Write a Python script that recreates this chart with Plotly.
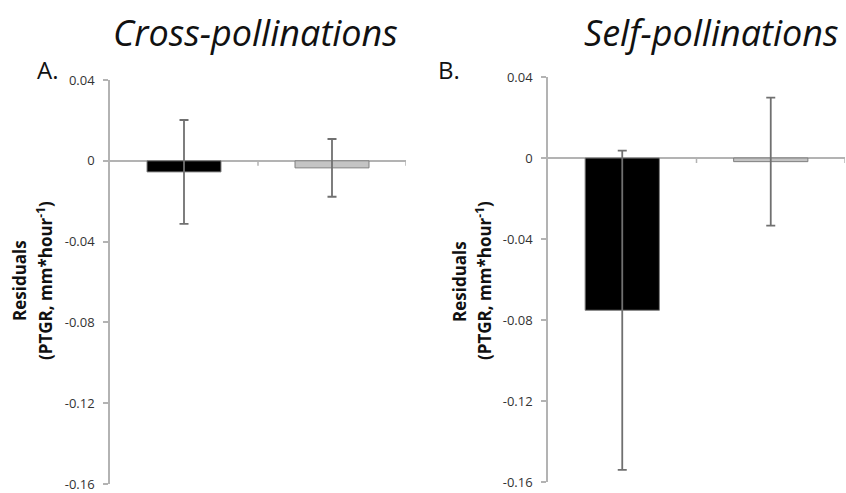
import plotly.graph_objects as go

# ---- data ----
categories = [0, 1]
cross_values = [-0.0055, -0.0035]
cross_errors = [0.0257, 0.0143]
self_values = [-0.0752, -0.0018]
self_errors = [0.0788, 0.0316]
bar_colors = ["#000000", "#c4c4c4"]
ytick_vals = [0.04, 0.0, -0.04, -0.08, -0.12, -0.16]
ytick_text = ["0.04", "0", "-0.04", "-0.08", "-0.12", "-0.16"]
panel_titles = ["Cross-pollinations", "Self-pollinations"]
panel_letters = ["A.", "B."]

W, H = 846, 493
FONT = "Open Sans"
AXIS_GRAY = "#b3b3b3"
ERR_GRAY = "#707070"

fig = go.Figure()

def add_bars(vals, errs, xa, ya):
    fig.add_trace(go.Bar(
        x=categories, y=vals, width=0.5,
        marker=dict(color=bar_colors, line=dict(color="#7f7f7f", width=1)),
        error_y=dict(type="data", array=errs, visible=True,
                     color=ERR_GRAY, thickness=1.8, width=4.5),
        xaxis=xa, yaxis=ya, showlegend=False,
    ))

add_bars(cross_values, cross_errors, "x", "y")
add_bars(self_values, self_errors, "x2", "y2")

def yaxis_cfg(domain, anchor):
    return dict(
        domain=domain, anchor=anchor, range=[-0.16, 0.04], automargin=False,
        tickmode="array", tickvals=ytick_vals, ticktext=ytick_text,
        showline=True, linecolor=AXIS_GRAY, linewidth=1.5,
        ticks="outside", ticklen=5, tickcolor=AXIS_GRAY, tickwidth=1.5,
        ticklabelstandoff=6,
        showgrid=False, zeroline=True, zerolinecolor=AXIS_GRAY, zerolinewidth=1.5,
        tickfont=dict(family=FONT, size=13, color="#333333"),
    )

def xaxis_cfg(domain, anchor):
    return dict(domain=domain, anchor=anchor, range=[-0.5, 1.5], automargin=False,
                visible=False, fixedrange=True)

fig.update_layout(
    width=W, height=H,
    margin=dict(l=0, r=0, t=0, b=0, autoexpand=False),
    paper_bgcolor="white", plot_bgcolor="white",
    xaxis=xaxis_cfg([110 / W, 406 / W], "y"),
    yaxis=yaxis_cfg([1 - 484 / H, 1 - 80 / H], "x"),
    xaxis2=xaxis_cfg([548 / W, 845 / W], "y2"),
    yaxis2=yaxis_cfg([1 - 482 / H, 1 - 77 / H], "x2"),
    bargap=0.5,
)

# category boundary tick marks on the zero line
shapes = []
for xa, ya in [("x", "y"), ("x2", "y2")]:
    for i in range(1, len(categories) + 1):
        xb = i - 0.5
        shapes.append(dict(type="line", xref=xa, yref=ya,
                           x0=xb, x1=xb, ysizemode="pixel", yanchor=0,
                           y0=0, y1=-5,
                           line=dict(color=AXIS_GRAY, width=1.5)))
fig.update_layout(shapes=shapes)

annotations = []
# panel titles
for text, cx in zip(panel_titles, [255, 711]):
    annotations.append(dict(text=f"<i>{text}</i>", xref="paper", yref="paper",
                            x=cx / W, y=1 - 32 / H, xanchor="center", yanchor="middle",
                            showarrow=False,
                            font=dict(family=FONT, size=36, color="#111111")))
# panel letters
for text, lx in zip(panel_letters, [35, 436]):
    annotations.append(dict(text=text, xref="paper", yref="paper",
                            x=lx / W, y=1 - 69 / H, xanchor="left", yanchor="middle",
                            showarrow=False,
                            font=dict(family=FONT, size=24, color="#111111")))
# y-axis titles (two lines each)
for x1, x2 in [(19, 44), (459, 483)]:
    annotations.append(dict(text="<b>Residuals</b>", xref="paper", yref="paper",
                            x=x1 / W, y=1 - 281 / H, xanchor="center", yanchor="middle",
                            textangle=-90, showarrow=False,
                            font=dict(family=FONT, size=17, color="#111111")))
    annotations.append(dict(text="<b>(PTGR, mm*hour<sup>-1</sup>)</b>", xref="paper", yref="paper",
                            x=x2 / W, y=1 - 281 / H, xanchor="center", yanchor="middle",
                            textangle=-90, showarrow=False,
                            font=dict(family=FONT, size=17, color="#111111")))
fig.update_layout(annotations=annotations)

fig.write_html("out.html")
